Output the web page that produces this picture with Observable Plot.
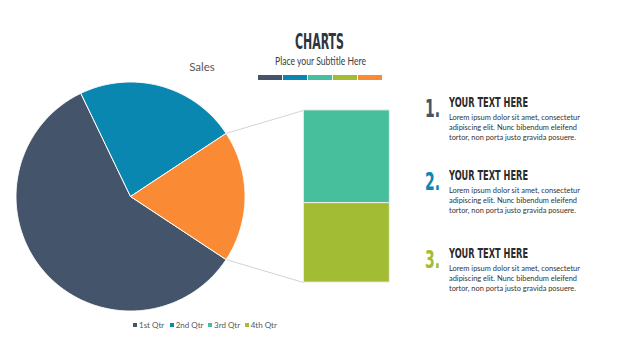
<!DOCTYPE html>
<html><head><meta charset="utf-8">
<script src="https://cdn.jsdelivr.net/npm/d3@7"></script>
<script src="https://cdn.jsdelivr.net/npm/@observablehq/plot@0.6"></script>
<style>
html,body{margin:0;padding:0;background:#fff;}
#page{position:relative;width:640px;height:360px;overflow:hidden;font-family:Lato,"Open Sans",sans-serif;}
.abs{position:absolute;white-space:nowrap;line-height:1;}
.cond{font-family:"Liberation Sans Narrow","DejaVu Sans Condensed","Liberation Sans",sans-serif;font-weight:700;}
#plot{position:absolute;left:0;top:70px;}
</style></head><body><div id="page"><div id="plot"></div></div>
<script>
// ---- data ----
const categories = ["1st Qtr", "2nd Qtr", "3rd Qtr", "4th Qtr"];
const sales = [8.2, 3.2, 1.4, 1.2];
const otherLabel = "Other";
const colors = ["#44546A", "#0A87B1", "#47BF9C", "#A2BC34"];
const otherColor = "#FA8A34";
const chartTitle = "CHARTS";
const subtitle = "Place your Subtitle Here";
const seriesTitle = "Sales";
const blockNumbers = ["1.", "2.", "3."];
const blockColors = ["#44546A", "#0A87B1", "#A2BC34"];
const blockHeadings = ["YOUR TEXT HERE", "YOUR TEXT HERE", "YOUR TEXT HERE"];
const bodyLines = ["Lorem ipsum dolor sit amet, consectetur", "adipiscing elit. Nunc bibendum eleifend", "tortor, non porta justo gravida posuere."];
const stripColors = ["#44546A", "#0A87B1", "#47BF9C", "#A2BC34", "#FA8A34"];

// ---- pie-of-bar geometry ----
const pieLabels = [categories[0], categories[1], otherLabel];
const pieValues = [sales[0], sales[1], sales[2] + sales[3]];
const total = d3.sum(pieValues);
const otherDeg = pieValues[2] / total * 360;
let a0 = 90 + otherDeg / 2;
const slicePts = [];
pieLabels.forEach((lab, i) => {
  const span = pieValues[i] / total * 360;
  slicePts.push({slice: lab, x: 0, y: 0});
  const n = Math.ceil(span * 2);
  for (let j = 0; j <= n; j++) {
    const a = (a0 + span * j / n) * Math.PI / 180;
    slicePts.push({slice: lab, x: Math.sin(a), y: Math.cos(a)});
  }
  slicePts.push({slice: lab, x: 0, y: 0});
  a0 += span;
});
const barX1 = 1.514, barX2 = 2.265, barTop = 0.752, barBottom = -0.752;
const k = (barTop - barBottom) / pieValues[2];
let cur = barTop;
const barData = categories.slice(2).map((c, i) => {
  const v = sales[2 + i];
  const d = {cat: c, x1: barX1, x2: barX2, y2: cur, y1: cur - v * k};
  cur -= v * k;
  return d;
});
const oS = (90 - otherDeg / 2) * Math.PI / 180, oE = (90 + otherDeg / 2) * Math.PI / 180;
const links = [
  {x1: Math.sin(oS), y1: Math.cos(oS), x2: barX1, y2: barTop},
  {x1: Math.sin(oE), y1: Math.cos(oE), x2: barX1, y2: barBottom}
];

const chart = Plot.plot({
  width: 400, height: 250, margin: 0,
  style: {background: "transparent"},
  x: {domain: [-1.1354, 2.3581], axis: null},
  y: {domain: [-1.0830, 1.1004], axis: null},
  color: {domain: [...categories, otherLabel], range: [...colors, otherColor]},
  marks: [
    Plot.link(links, {x1: "x1", y1: "y1", x2: "x2", y2: "y2", stroke: "#d4d4d4", strokeWidth: 1}),
    Plot.line(slicePts, {x: "x", y: "y", z: "slice", fill: "slice", stroke: "white", strokeWidth: 1, strokeLinejoin: "round"}),
    Plot.rect(barData, {x1: "x1", x2: "x2", y1: "y1", y2: "y2", fill: "cat", stroke: "#eeeeee", strokeWidth: 1})
  ]
});
document.getElementById("plot").appendChild(chart);

// ---- html text ----
const page = document.getElementById("page");
function add(text, css, cls) {
  const el = document.createElement("div");
  el.className = "abs" + (cls ? " " + cls : "");
  el.textContent = text;
  Object.assign(el.style, css);
  page.appendChild(el);
  return el;
}
function fit(el, w) {
  const r = el.getBoundingClientRect();
  el.style.transformOrigin = "left top";
  el.style.transform = `scaleX(${w / r.width})`;
}
fit(add(chartTitle, {left: "295px", top: "30.5px", fontSize: "22px", color: "#2f3640"}, "cond"), 49);
fit(add(subtitle, {left: "274.5px", top: "55.5px", fontSize: "10.5px", color: "#404040"}), 91);
const sw = 24;
stripColors.forEach((c, i) => {
  const s = document.createElement("div");
  Object.assign(s.style, {position: "absolute", left: (258 + i * 25) + "px", top: "74.5px", width: sw + "px", height: "5px", background: c});
  page.appendChild(s);
});
const st = add(seriesTitle, {left: "202px", top: "60.5px", fontSize: "11.5px", color: "#595959"});
st.style.transform = "translateX(-50%)";

const headTops = [97, 170, 248];
blockNumbers.forEach((n, i) => {
  const t = headTops[i];
  fit(add(n, {left: "425px", top: (t + 2.5 - 0.13 * 25) + "px", fontSize: "25px", color: blockColors[i]}, "cond"), 15);
  fit(add(blockHeadings[i], {left: "449px", top: (t - 0.13 * 14.7) + "px", fontSize: "14.7px", color: "#2b2b2b"}, "cond"), 79);
  const widths = [131, 128, 127];
  bodyLines.forEach((l, j) => {
    fit(add(l, {left: "449px", top: (t + 16 + j * 10) + "px", fontSize: "8.3px", color: "#333333", fontWeight: "400"}), widths[j]);
  });
});

// legend
const legLeft = [133, 169.7, 208, 244.7];
categories.forEach((c, i) => {
  const sq = document.createElement("div");
  Object.assign(sq.style, {position: "absolute", left: legLeft[i] + "px", top: "323px", width: "4px", height: "4px", background: colors[i]});
  page.appendChild(sq);
  add(c, {left: (legLeft[i] + 6) + "px", top: "321px", fontSize: "8px", color: "#595959"});
});
</script></body></html>
